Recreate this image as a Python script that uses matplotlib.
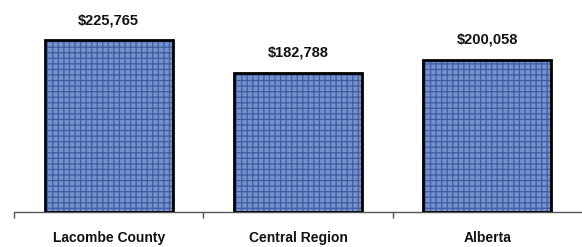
import matplotlib.pyplot as plt
import numpy as np

# average value of homes
regions = ['Lacombe County', 'Central Region', 'Alberta']
values = [225765, 182788, 200058]
value_labels = ['$225,765', '$182,788', '$200,058']

plt.rcParams['font.family'] = ['Liberation Sans', 'DejaVu Sans']
plt.rcParams['hatch.linewidth'] = 0.9

fig = plt.figure(figsize=(5.82, 2.47), dpi=100)
ax = fig.add_axes([14 / 582, 35 / 247, 1 - 14 / 582, 212 / 247])

x = np.arange(len(regions))

# canvas-like texture: light blue fill with a dark blue woven hatch
ax.bar(x, values, width=0.675, color='#7592d0', edgecolor='#3f5c9e',
       hatch='+++', linewidth=0, zorder=2)
ax.bar(x, values, width=0.675, fill=False, edgecolor='black',
       linewidth=2, zorder=3)

for xi, v, lab in zip(x, values, value_labels):
    ax.text(xi, v + 17000, lab, ha='center', va='bottom',
            fontsize=10.5, fontweight='bold', color='#111111')

ax.set_xlim(-0.5, 2.5)
ax.set_ylim(0, 278300)

for s in ['top', 'right', 'left']:
    ax.spines[s].set_visible(False)
ax.spines['bottom'].set_color('#555555')
ax.spines['bottom'].set_linewidth(1)

ax.set_yticks([])
ax.set_xticks([-0.5, 0.5, 1.5], minor=False)
ax.set_xticklabels([])
ax.tick_params(axis='x', which='major', length=4, color='#555555', width=1)
ax.set_xticks(x, minor=True)
ax.set_xticklabels(regions, minor=True, fontsize=10, fontweight='bold',
                   color='#111111')
ax.tick_params(axis='x', which='minor', length=0, pad=14)

fig.savefig('out.png', dpi=100)
